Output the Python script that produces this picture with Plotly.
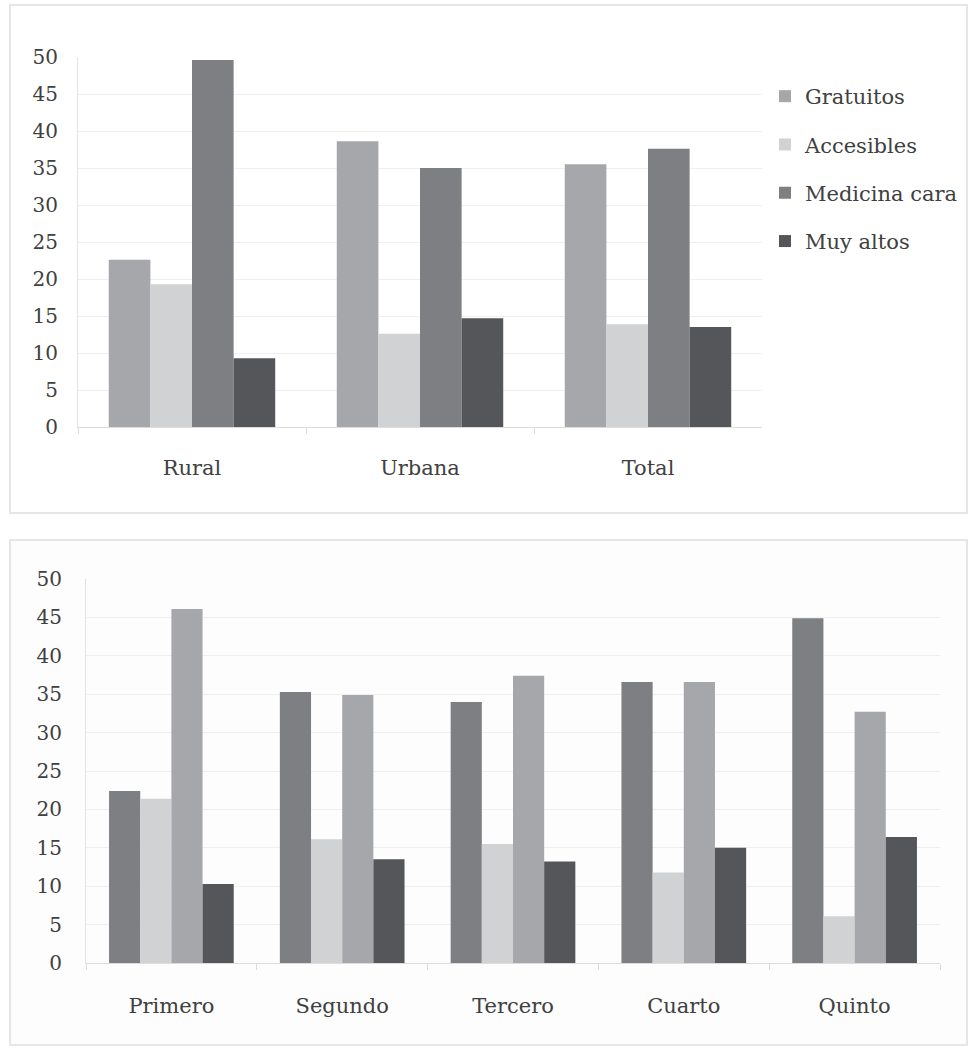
import plotly.graph_objects as go

# ---- data ----
series = ["Gratuitos", "Accesibles", "Medicina cara", "Muy altos"]
top_categories = ["Rural", "Urbana", "Total"]
top_values = {
    "Gratuitos":     [22.6, 38.6, 35.5],
    "Accesibles":    [19.3, 12.6, 13.9],
    "Medicina cara": [49.6, 35.0, 37.6],
    "Muy altos":     [9.3, 14.7, 13.5],
}
bottom_categories = ["Primero", "Segundo", "Tercero", "Cuarto", "Quinto"]
bottom_values = {
    "Gratuitos":     [22.4, 35.3, 34.0, 36.6, 44.9],
    "Accesibles":    [21.4, 16.1, 15.5, 11.8, 6.1],
    "Medicina cara": [46.1, 34.9, 37.4, 36.6, 32.7],
    "Muy altos":     [10.3, 13.5, 13.2, 15.0, 16.4],
}
y_ticks = [0, 5, 10, 15, 20, 25, 30, 35, 40, 45, 50]

top_colors = {"Gratuitos": "#a6a7aa", "Accesibles": "#d1d2d4",
              "Medicina cara": "#7e7f82", "Muy altos": "#55565a"}
bottom_colors = {"Gratuitos": "#7e7f82", "Accesibles": "#d1d2d4",
                 "Medicina cara": "#a6a7aa", "Muy altos": "#55565a"}

W, H = 969, 1048
FONT = "DejaVu Serif"
TXT = "#404040"

fig = go.Figure()
for s in series:
    fig.add_trace(go.Bar(name=s, x=top_categories, y=top_values[s],
                         marker=dict(color=top_colors[s], line=dict(width=0)),
                         xaxis="x", yaxis="y", legendgroup=s, showlegend=True))
for s in series:
    fig.add_trace(go.Bar(name=s, x=bottom_categories, y=bottom_values[s],
                         marker=dict(color=bottom_colors[s], line=dict(width=0)),
                         xaxis="x2", yaxis="y2", legendgroup=s, showlegend=False))

def px_x(a, b):
    return [a / W, b / W]

def px_y(top, bottom):
    return [(H - bottom) / H, (H - top) / H]

axis_common = dict(showgrid=False, showline=True, linecolor="#dcdcdc", linewidth=1,
                   ticks="outside", tickson="boundaries", ticklen=6, tickcolor="#dcdcdc",
                   tickfont=dict(family=FONT, size=21, color=TXT),
                   automargin=False)
yaxis_common = dict(range=[0, 50], tickvals=y_ticks, showgrid=True, gridcolor="#efefef",
                    gridwidth=1, showline=True, linecolor="#e4e4e4", zeroline=False,
                    tickfont=dict(family=FONT, size=20, color=TXT), ticks="",
                    automargin=False)

fig.update_layout(
    width=W, height=H, margin=dict(l=0, r=0, t=0, b=0, pad=0), autosize=False,
    paper_bgcolor="white", plot_bgcolor="rgba(0,0,0,0)",
    barmode="group", bargap=0.27, bargroupgap=0,
    font=dict(family=FONT, color=TXT),
    xaxis=dict(domain=px_x(78, 762), anchor="y", ticklabelstandoff=22, **axis_common),
    yaxis=dict(domain=px_y(57, 427), anchor="x", ticklabelstandoff=15, **yaxis_common),
    xaxis2=dict(domain=px_x(86, 940), anchor="y2", ticklabelstandoff=24, **axis_common),
    yaxis2=dict(domain=px_y(579, 963), anchor="x2", ticklabelstandoff=19, **yaxis_common),
    legend=dict(x=765 / W, y=1 - 76 / H, xanchor="left", yanchor="top",
                font=dict(family=FONT, size=21, color=TXT),
                tracegroupgap=18, itemwidth=30, bgcolor="rgba(0,0,0,0)"),
    shapes=[
        dict(type="rect", xref="paper", yref="paper",
             x0=10 / W, x1=967 / W, y0=1 - 513 / H, y1=1 - 5 / H,
             line=dict(color="#e6e6e6", width=2), layer="below"),
        dict(type="rect", xref="paper", yref="paper",
             x0=10 / W, x1=967 / W, y0=1 - 1045 / H, y1=1 - 540 / H,
             line=dict(color="#e6e6e6", width=2), fillcolor="#fdfdfd", layer="below"),
    ],
)

fig.write_html("out.html", post_script="document.body.style.margin='0';",
               config={"displayModeBar": False})
